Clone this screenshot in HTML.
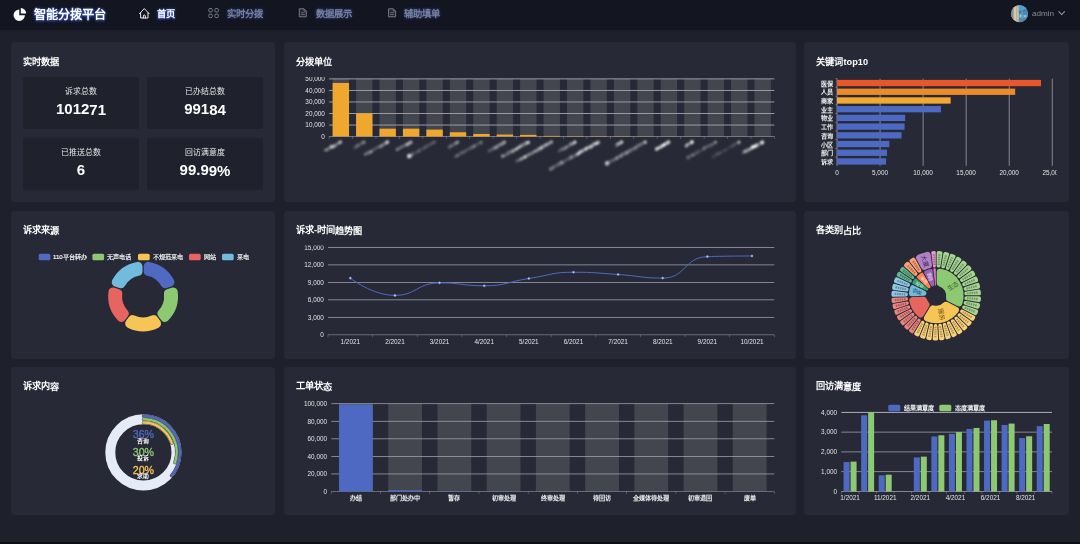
<!DOCTYPE html>
<html lang="zh-CN"><head><meta charset="utf-8"><title>智能分拨平台</title>
<style>
html,body{margin:0;padding:0}
body{width:1080px;height:544px;overflow:hidden;background:#1e202b;font-family:"Liberation Sans",sans-serif;color:#fff;position:relative}
.nav{position:absolute;left:0;top:0;width:1080px;height:29.7px;background:#131620}
.logo{position:absolute;left:34px;top:6.7px;font-size:12.2px;font-weight:bold;line-height:17px;color:#fff;text-shadow:0 0 3px rgba(63,95,224,.95),0 1px 3px rgba(63,95,224,.75);white-space:nowrap}
.ni{transform:translateY(1px) rotate(.02deg);position:absolute;top:7px;font-size:9.3px;font-weight:bold;line-height:13px;color:#7b8294;white-space:nowrap;text-shadow:0 0 3px rgba(50,80,200,.8)}
.ni.on{color:#fff;text-shadow:0 0 3px #3f5fe0,0 1px 2px #3f5fe0}
.user{position:absolute;left:1032px;top:8px;font-size:8.1px;line-height:11px;color:#8b8e98}
.ava{position:absolute;left:1011.3px;top:5.5px;width:16.4px;height:16.4px;border-radius:50%;overflow:hidden;background:linear-gradient(90deg,#b8a98c 0,#d9ccb0 38%,#3d86b8 46%,#4aa0d6 80%,#6d9fbf 100%);box-shadow:0 0 0 .6px #9aa0a8}
.p{position:absolute;background:#272a36;border-radius:3.5px}
.t{position:absolute;left:12.3px;top:13.6px;font-size:9.2px;font-weight:bold;line-height:12px;color:#fff;white-space:nowrap}
.c{position:absolute;background:#1f212c;border-radius:2.5px;width:116px;height:52.5px;text-align:center}
.c .l{transform:rotate(.02deg);position:absolute;left:0;right:0;top:10.5px;font-size:7.9px;line-height:10px;color:#e6e7ea}
.c .n{transform:translateY(.5px) rotate(.02deg);position:absolute;left:0;right:0;top:22px;font-size:15px;line-height:20px;font-weight:bold;color:#fff}
svg{position:absolute;left:0;top:0;overflow:hidden}
svg text{font-family:"Liberation Sans",sans-serif}
.bottom{position:absolute;left:0;top:542.4px;width:1080px;height:2px;background:#0c0d12}
#wrap{position:absolute;left:0;top:0;width:1080px;height:544px;will-change:transform;filter:blur(.4px)}
</style></head><body><div id="wrap">

<div class="nav">
<svg width="1080" height="30" viewBox="0 0 1080 30">
<path fill="#fff" d="M19.25 15.2L19.25 9.5A5.7 5.7 0 1 0 24.95 15.2Z"/>
<path fill="#fff" d="M20.8 13.5L20.8 8.1A5.4 5.4 0 0 1 26.2 13.5Z"/>
<g fill="none" stroke="#fff" stroke-width="0.9" stroke-linejoin="round" stroke-linecap="round"><path d="M139.5 13.7L144.3 8.6L149.1 13.7"/><path d="M140.6 12.9V18H148V12.9"/><path d="M143.3 18V16A1 1 0 0 1 145.3 16V18"/></g>
<rect x="208.8" y="8.5" width="3.5" height="3.5" rx="1.15" fill="none" stroke="#7b8091" stroke-width="0.95"/>
<rect x="214.9" y="8.5" width="3.5" height="3.5" rx="1.15" fill="none" stroke="#7b8091" stroke-width="0.95"/>
<rect x="208.8" y="14.1" width="3.5" height="3.5" rx="1.15" fill="none" stroke="#7b8091" stroke-width="0.95"/>
<rect x="214.9" y="14.1" width="3.5" height="3.5" rx="1.15" fill="none" stroke="#7b8091" stroke-width="0.95"/>
<path d="M299.3 8.8H304L306.3 11.1V16.8H299.3Z" fill="rgba(255,255,255,.07)" stroke="#7b8091" stroke-width="0.95" stroke-linejoin="round"/>
<path d="M304 8.8V11.1H306.3" fill="none" stroke="#7b8091" stroke-width="0.7"/>
<path d="M300.9 12.7H304.7M300.9 14.5H304.7" stroke="#7b8091" stroke-width="0.7"/>
<path d="M388.6 8.8H393.3L395.6 11.1V16.8H388.6Z" fill="rgba(255,255,255,.07)" stroke="#7b8091" stroke-width="0.95" stroke-linejoin="round"/>
<path d="M393.3 8.8V11.1H395.6" fill="none" stroke="#7b8091" stroke-width="0.7"/>
<path d="M390.2 12.7H394M390.2 14.5H394" stroke="#7b8091" stroke-width="0.7"/>
<defs><clipPath id="av"><circle cx="1019.5" cy="13.7" r="8.3"/></clipPath></defs>
<circle cx="1019.5" cy="13.7" r="8.6" fill="#8c939b"/>
<g clip-path="url(#av)"><rect x="1011" y="5" width="17" height="17" fill="#3f8cc2"/><rect x="1011" y="5" width="3.2" height="17" fill="#8f8c84"/><rect x="1013.6" y="5" width="5.2" height="17" fill="#d5c7a8"/><rect x="1016.3" y="5" width="1" height="17" fill="#b3a58a"/><path d="M1018.8 5L1028 5L1028 9.5L1018.8 12Z" fill="#4aa3d8"/><path d="M1018.8 11.2L1028 8.6L1028 10L1018.8 12.6Z" fill="#5a6d78"/><rect x="1021.8" y="10" width="0.9" height="12" fill="#7d99a8"/><rect x="1019.5" y="14.5" width="2" height="3" fill="#9fc4dc"/><rect x="1023.5" y="15" width="3" height="2.4" fill="#8fb9d6"/><rect x="1018.8" y="19" width="9.5" height="3" fill="#5b87a6"/></g>
<path d="M1058.9 11.6L1061.7 14.7L1064.5 11.6" fill="none" stroke="#8b8e98" stroke-width="1.1" stroke-linecap="round" stroke-linejoin="round"/>
</svg>
<div class="logo">智能分拨平台</div>
<div class="ni on" style="left:157.3px">首页</div>
<div class="ni" style="left:226.7px">实时分拨</div>
<div class="ni" style="left:315.7px">数据展示</div>
<div class="ni" style="left:404px">辅助填单</div>
<div class="user">admin</div>
</div>
<div class="p" style="left:10.9px;top:42px;width:264.1px;height:160.4px"><div class="t" style="top:13.5px">实时数据</div></div>
<div class="p" style="left:283.6px;top:42px;width:512px;height:160.4px"><div class="t" style="top:13.5px">分拨单位</div></div>
<div class="p" style="left:804.2px;top:42px;width:264.8px;height:160.4px"><div class="t" style="top:13.5px">关键词top10</div></div>
<div class="p" style="left:10.9px;top:211.1px;width:264.1px;height:147.7px"><div class="t" style="top:13.4px;transform:translateY(.5px) rotate(.02deg)">诉求来源</div></div>
<div class="p" style="left:283.6px;top:211.1px;width:512px;height:147.7px"><div class="t" style="top:13.4px;transform:translateY(.5px) rotate(.02deg)">诉求-时间趋势图</div></div>
<div class="p" style="left:804.2px;top:211.1px;width:264.8px;height:147.7px"><div class="t" style="top:13.4px;transform:translateY(.5px) rotate(.02deg)">各类别占比</div></div>
<div class="p" style="left:10.9px;top:367.1px;width:264.1px;height:148.3px"><div class="t" style="top:12.9px;transform:translateY(.5px) rotate(.02deg)">诉求内容</div></div>
<div class="p" style="left:283.6px;top:367.1px;width:512px;height:148.3px"><div class="t" style="top:12.9px;transform:translateY(.5px) rotate(.02deg)">工单状态</div></div>
<div class="p" style="left:804.2px;top:367.1px;width:264.8px;height:148.3px"><div class="t" style="top:12.9px;transform:translateY(.5px) rotate(.02deg)">回访满意度</div></div>
<div class="c" style="left:23px;top:76.65px"><div class="l">诉求总数</div><div class="n">101271</div></div>
<div class="c" style="left:147px;top:76.65px"><div class="l">已办结总数</div><div class="n">99184</div></div>
<div class="c" style="left:23px;top:137.65px"><div class="l">已推送总数</div><div class="n">6</div></div>
<div class="c" style="left:147px;top:137.65px"><div class="l">回访满意度</div><div class="n">99.99%</div></div>
<svg width="1080" height="544" viewBox="0 0 1080 544">
<defs><filter id="b1" x="-20%" y="-50%" width="140%" height="200%"><feGaussianBlur stdDeviation="0.9"/></filter>
<clipPath id="c1"><rect x="284" y="77.1" width="500" height="120"/></clipPath>
<clipPath id="c2"><rect x="284" y="245.6" width="500" height="110"/></clipPath>
<clipPath id="c3"><rect x="805" y="70" width="251.6" height="130"/></clipPath>
</defs>
<g clip-path="url(#c1)">
<rect x="332.62" y="78.8" width="16.4" height="57.7" fill="rgba(180,180,180,0.2)"/>
<rect x="356.06" y="78.8" width="16.4" height="57.7" fill="rgba(180,180,180,0.2)"/>
<rect x="379.49" y="78.8" width="16.4" height="57.7" fill="rgba(180,180,180,0.2)"/>
<rect x="402.93" y="78.8" width="16.4" height="57.7" fill="rgba(180,180,180,0.2)"/>
<rect x="426.37" y="78.8" width="16.4" height="57.7" fill="rgba(180,180,180,0.2)"/>
<rect x="449.8" y="78.8" width="16.4" height="57.7" fill="rgba(180,180,180,0.2)"/>
<rect x="473.24" y="78.8" width="16.4" height="57.7" fill="rgba(180,180,180,0.2)"/>
<rect x="496.68" y="78.8" width="16.4" height="57.7" fill="rgba(180,180,180,0.2)"/>
<rect x="520.11" y="78.8" width="16.4" height="57.7" fill="rgba(180,180,180,0.2)"/>
<rect x="543.55" y="78.8" width="16.4" height="57.7" fill="rgba(180,180,180,0.2)"/>
<rect x="566.99" y="78.8" width="16.4" height="57.7" fill="rgba(180,180,180,0.2)"/>
<rect x="590.42" y="78.8" width="16.4" height="57.7" fill="rgba(180,180,180,0.2)"/>
<rect x="613.86" y="78.8" width="16.4" height="57.7" fill="rgba(180,180,180,0.2)"/>
<rect x="637.3" y="78.8" width="16.4" height="57.7" fill="rgba(180,180,180,0.2)"/>
<rect x="660.73" y="78.8" width="16.4" height="57.7" fill="rgba(180,180,180,0.2)"/>
<rect x="684.17" y="78.8" width="16.4" height="57.7" fill="rgba(180,180,180,0.2)"/>
<rect x="707.61" y="78.8" width="16.4" height="57.7" fill="rgba(180,180,180,0.2)"/>
<rect x="731.04" y="78.8" width="16.4" height="57.7" fill="rgba(180,180,180,0.2)"/>
<rect x="754.48" y="78.8" width="16.4" height="57.7" fill="rgba(180,180,180,0.2)"/>
<rect x="329.1" y="136.13" width="445.3" height="0.9" fill="#7d808a"/>
<text x="324.9" y="138.77" font-size="6.4" text-anchor="end" fill="#e2e3e7" font-weight="normal">0</text>
<rect x="329.1" y="124.59" width="445.3" height="0.9" fill="#a3a6af"/>
<text x="324.9" y="127.23" font-size="6.4" text-anchor="end" fill="#e2e3e7" font-weight="normal">10,000</text>
<rect x="329.1" y="113.05" width="445.3" height="0.9" fill="#a3a6af"/>
<text x="324.9" y="115.69" font-size="6.4" text-anchor="end" fill="#e2e3e7" font-weight="normal">20,000</text>
<rect x="329.1" y="101.51" width="445.3" height="0.9" fill="#a3a6af"/>
<text x="324.9" y="104.15" font-size="6.4" text-anchor="end" fill="#e2e3e7" font-weight="normal">30,000</text>
<rect x="329.1" y="89.97" width="445.3" height="0.9" fill="#a3a6af"/>
<text x="324.9" y="92.61" font-size="6.4" text-anchor="end" fill="#e2e3e7" font-weight="normal">40,000</text>
<rect x="329.1" y="78.43" width="445.3" height="0.9" fill="#a3a6af"/>
<text x="324.9" y="81.07" font-size="6.4" text-anchor="end" fill="#e2e3e7" font-weight="normal">50,000</text>
<rect x="332.62" y="82.95" width="16.4" height="53.55" fill="#efa72e"/>
<rect x="356.06" y="113.42" width="16.4" height="23.08" fill="#efa72e"/>
<rect x="379.49" y="128.65" width="16.4" height="7.85" fill="#efa72e"/>
<rect x="402.93" y="128.65" width="16.4" height="7.85" fill="#efa72e"/>
<rect x="426.37" y="129.58" width="16.4" height="6.92" fill="#efa72e"/>
<rect x="449.8" y="132.23" width="16.4" height="4.27" fill="#efa72e"/>
<rect x="473.24" y="133.96" width="16.4" height="2.54" fill="#efa72e"/>
<rect x="496.68" y="134.54" width="16.4" height="1.96" fill="#efa72e"/>
<rect x="520.11" y="134.88" width="16.4" height="1.62" fill="#efa72e"/>
<rect x="543.55" y="135.92" width="16.4" height="0.58" fill="#efa72e"/>
<rect x="566.99" y="136.1" width="16.4" height="0.4" fill="#efa72e"/>
<rect x="590.42" y="136.15" width="16.4" height="0.35" fill="#efa72e"/>
<rect x="613.86" y="136.21" width="16.4" height="0.29" fill="#efa72e"/>
<rect x="637.3" y="136.33" width="16.4" height="0.17" fill="#efa72e"/>
<rect x="660.73" y="136.36" width="16.4" height="0.14" fill="#efa72e"/>
<rect x="684.17" y="136.41" width="16.4" height="0.09" fill="#efa72e"/>
<rect x="707.61" y="136.43" width="16.4" height="0.07" fill="#efa72e"/>
<rect x="731.04" y="136.45" width="16.4" height="0.05" fill="#efa72e"/>
<rect x="754.48" y="136.47" width="16.4" height="0.03" fill="#efa72e"/>
<rect x="328.8" y="136.5" width="0.6" height="2.4" fill="#a3a6af" opacity=".6"/>
<rect x="352.24" y="136.5" width="0.6" height="2.4" fill="#a3a6af" opacity=".6"/>
<rect x="375.67" y="136.5" width="0.6" height="2.4" fill="#a3a6af" opacity=".6"/>
<rect x="399.11" y="136.5" width="0.6" height="2.4" fill="#a3a6af" opacity=".6"/>
<rect x="422.55" y="136.5" width="0.6" height="2.4" fill="#a3a6af" opacity=".6"/>
<rect x="445.98" y="136.5" width="0.6" height="2.4" fill="#a3a6af" opacity=".6"/>
<rect x="469.42" y="136.5" width="0.6" height="2.4" fill="#a3a6af" opacity=".6"/>
<rect x="492.86" y="136.5" width="0.6" height="2.4" fill="#a3a6af" opacity=".6"/>
<rect x="516.29" y="136.5" width="0.6" height="2.4" fill="#a3a6af" opacity=".6"/>
<rect x="539.73" y="136.5" width="0.6" height="2.4" fill="#a3a6af" opacity=".6"/>
<rect x="563.17" y="136.5" width="0.6" height="2.4" fill="#a3a6af" opacity=".6"/>
<rect x="586.61" y="136.5" width="0.6" height="2.4" fill="#a3a6af" opacity=".6"/>
<rect x="610.04" y="136.5" width="0.6" height="2.4" fill="#a3a6af" opacity=".6"/>
<rect x="633.48" y="136.5" width="0.6" height="2.4" fill="#a3a6af" opacity=".6"/>
<rect x="656.92" y="136.5" width="0.6" height="2.4" fill="#a3a6af" opacity=".6"/>
<rect x="680.35" y="136.5" width="0.6" height="2.4" fill="#a3a6af" opacity=".6"/>
<rect x="703.79" y="136.5" width="0.6" height="2.4" fill="#a3a6af" opacity=".6"/>
<rect x="727.23" y="136.5" width="0.6" height="2.4" fill="#a3a6af" opacity=".6"/>
<rect x="750.66" y="136.5" width="0.6" height="2.4" fill="#a3a6af" opacity=".6"/>
<rect x="774.1" y="136.5" width="0.6" height="2.4" fill="#a3a6af" opacity=".6"/>
</g>
<g filter="url(#b1)" fill="#fff">
<g transform="translate(341.82 141.5) rotate(-29)">
<ellipse cx="-1.5" cy="-0.28" rx="1.8" ry="1.89" opacity="0.34"/>
<ellipse cx="-3.36" cy="-0.11" rx="1.8" ry="1.53" opacity="0.45"/>
<ellipse cx="-5.56" cy="-0.05" rx="1.8" ry="1.54" opacity="0.19"/>
<ellipse cx="-7.44" cy="0.26" rx="1.8" ry="1.57" opacity="0.39"/>
<ellipse cx="-9.42" cy="0.36" rx="1.8" ry="1.85" opacity="0.5"/>
<ellipse cx="-11.53" cy="-0.36" rx="1.8" ry="2.02" opacity="0.68"/>
<ellipse cx="-13.56" cy="-0.31" rx="1.8" ry="1.69" opacity="0.25"/>
<ellipse cx="-16.02" cy="0.07" rx="1.8" ry="1.88" opacity="0.27"/>
<ellipse cx="-18.11" cy="-0.35" rx="1.8" ry="1.54" opacity="0.46"/>
<circle cx="-1.6" cy="0" r="1.6" opacity="0.4"/>
</g>
<g transform="translate(365.26 141.5) rotate(-29)">
<ellipse cx="-1.5" cy="-0.06" rx="1.8" ry="1.69" opacity="0.26"/>
<ellipse cx="-3.77" cy="-0.16" rx="1.8" ry="1.98" opacity="0.2"/>
<ellipse cx="-6.13" cy="0.06" rx="1.8" ry="1.82" opacity="0.15"/>
<ellipse cx="-8.63" cy="-0.17" rx="1.8" ry="2.09" opacity="0.27"/>
<ellipse cx="-10.52" cy="0.21" rx="1.8" ry="1.59" opacity="0.19"/>
<ellipse cx="-12.71" cy="0.13" rx="1.8" ry="1.96" opacity="0.1"/>
<circle cx="-1.6" cy="0" r="1.6" opacity="0.24"/>
</g>
<g transform="translate(388.69 141.5) rotate(-29)">
<ellipse cx="-1.5" cy="-0.15" rx="1.8" ry="1.92" opacity="0.47"/>
<ellipse cx="-3.78" cy="-0.04" rx="1.8" ry="2" opacity="0.35"/>
<ellipse cx="-6.33" cy="0.13" rx="1.8" ry="1.54" opacity="0.31"/>
<ellipse cx="-8.69" cy="0.39" rx="1.8" ry="1.99" opacity="0.38"/>
<ellipse cx="-10.72" cy="0.13" rx="1.8" ry="1.51" opacity="0.28"/>
<ellipse cx="-12.89" cy="-0.31" rx="1.8" ry="1.54" opacity="0.19"/>
<ellipse cx="-15.3" cy="-0.2" rx="1.8" ry="1.73" opacity="0.18"/>
<ellipse cx="-17.8" cy="-0.04" rx="1.8" ry="1.83" opacity="0.16"/>
<ellipse cx="-20.31" cy="0.29" rx="1.8" ry="1.67" opacity="0.45"/>
<ellipse cx="-22.44" cy="0.31" rx="1.8" ry="2.07" opacity="0.27"/>
<ellipse cx="-24.36" cy="-0.21" rx="1.8" ry="1.64" opacity="0.2"/>
<ellipse cx="-26.55" cy="-0.19" rx="1.8" ry="1.5" opacity="0.36"/>
<circle cx="-1.6" cy="0" r="1.6" opacity="0.64"/>
</g>
<g transform="translate(412.13 141.5) rotate(-29)">
<ellipse cx="-1.5" cy="0.05" rx="1.8" ry="2.07" opacity="0.3"/>
<ellipse cx="-3.85" cy="0.09" rx="1.8" ry="1.91" opacity="0.37"/>
<ellipse cx="-5.7" cy="0.22" rx="1.8" ry="2.02" opacity="0.53"/>
<ellipse cx="-8.13" cy="-0.08" rx="1.8" ry="1.56" opacity="0.31"/>
<ellipse cx="-10.44" cy="-0.35" rx="1.8" ry="1.63" opacity="0.17"/>
<ellipse cx="-12.37" cy="-0.36" rx="1.8" ry="1.5" opacity="0.29"/>
<ellipse cx="-14.29" cy="-0.11" rx="1.8" ry="1.52" opacity="0.19"/>
<ellipse cx="-16.79" cy="-0.28" rx="1.8" ry="1.65" opacity="0.41"/>
<circle cx="-1.6" cy="0" r="1.6" opacity="0.4"/>
</g>
<g transform="translate(435.57 141.5) rotate(-29)">
<ellipse cx="-1.5" cy="-0.3" rx="1.8" ry="2.01" opacity="0.13"/>
<ellipse cx="-4.09" cy="-0.01" rx="1.8" ry="1.55" opacity="0.15"/>
<ellipse cx="-5.98" cy="-0.19" rx="1.8" ry="2" opacity="0.13"/>
<ellipse cx="-7.91" cy="0.36" rx="1.8" ry="1.82" opacity="0.07"/>
<ellipse cx="-9.82" cy="-0.38" rx="1.8" ry="1.82" opacity="0.17"/>
<ellipse cx="-12.41" cy="0.16" rx="1.8" ry="1.66" opacity="0.23"/>
<ellipse cx="-14.5" cy="0.22" rx="1.8" ry="1.82" opacity="0.09"/>
<ellipse cx="-16.92" cy="-0.22" rx="1.8" ry="1.99" opacity="0.13"/>
<ellipse cx="-19.51" cy="0.24" rx="1.8" ry="1.99" opacity="0.23"/>
<ellipse cx="-21.9" cy="0.01" rx="1.8" ry="1.71" opacity="0.11"/>
<ellipse cx="-23.73" cy="-0.18" rx="1.8" ry="1.66" opacity="0.07"/>
<ellipse cx="-26.08" cy="-0.04" rx="1.8" ry="2.06" opacity="0.24"/>
<ellipse cx="-28.67" cy="-0.11" rx="1.8" ry="1.63" opacity="0.24"/>
<circle cx="-1.6" cy="0" r="1.6" opacity="0.16"/>
<circle cx="-30" cy="0" r="2.3" opacity="0.8"/>
</g>
<g transform="translate(459 141.5) rotate(-29)">
<ellipse cx="-1.5" cy="-0.24" rx="1.8" ry="1.87" opacity="0.16"/>
<ellipse cx="-4.02" cy="-0.02" rx="1.8" ry="1.89" opacity="0.35"/>
<ellipse cx="-6.46" cy="0.13" rx="1.8" ry="2.05" opacity="0.13"/>
<ellipse cx="-8.89" cy="-0.02" rx="1.8" ry="1.61" opacity="0.33"/>
<ellipse cx="-11.32" cy="0.24" rx="1.8" ry="2.08" opacity="0.2"/>
<circle cx="-1.6" cy="0" r="1.6" opacity="0.4"/>
</g>
<g transform="translate(482.44 141.5) rotate(-29)">
<ellipse cx="-1.5" cy="0.36" rx="1.8" ry="1.93" opacity="0.19"/>
<ellipse cx="-3.44" cy="-0.28" rx="1.8" ry="2.04" opacity="0.12"/>
<ellipse cx="-5.88" cy="0.26" rx="1.8" ry="2.09" opacity="0.12"/>
<ellipse cx="-8.21" cy="0.04" rx="1.8" ry="1.58" opacity="0.18"/>
<ellipse cx="-10.02" cy="0.12" rx="1.8" ry="1.82" opacity="0.34"/>
<ellipse cx="-12.57" cy="0.3" rx="1.8" ry="2" opacity="0.2"/>
<ellipse cx="-14.53" cy="-0.17" rx="1.8" ry="1.64" opacity="0.15"/>
<ellipse cx="-16.8" cy="-0.06" rx="1.8" ry="1.58" opacity="0.15"/>
<ellipse cx="-19.33" cy="-0.03" rx="1.8" ry="1.85" opacity="0.18"/>
<ellipse cx="-21.85" cy="0.33" rx="1.8" ry="1.8" opacity="0.2"/>
<ellipse cx="-24.08" cy="-0.39" rx="1.8" ry="1.76" opacity="0.22"/>
<ellipse cx="-26.03" cy="0.24" rx="1.8" ry="1.6" opacity="0.09"/>
<ellipse cx="-28.21" cy="0.05" rx="1.8" ry="1.7" opacity="0.27"/>
<ellipse cx="-30.42" cy="0.23" rx="1.8" ry="1.56" opacity="0.23"/>
<circle cx="-1.6" cy="0" r="1.6" opacity="0.16"/>
</g>
<g transform="translate(505.88 141.5) rotate(-29)">
<ellipse cx="-1.5" cy="-0.18" rx="1.8" ry="1.96" opacity="0.23"/>
<ellipse cx="-3.71" cy="0.21" rx="1.8" ry="2.05" opacity="0.35"/>
<ellipse cx="-5.86" cy="0" rx="1.8" ry="1.81" opacity="0.37"/>
<ellipse cx="-8.21" cy="0.03" rx="1.8" ry="1.79" opacity="0.3"/>
<ellipse cx="-10.77" cy="0.3" rx="1.8" ry="2.07" opacity="0.4"/>
<ellipse cx="-12.78" cy="0.35" rx="1.8" ry="2" opacity="0.35"/>
<ellipse cx="-14.69" cy="-0.05" rx="1.8" ry="1.54" opacity="0.18"/>
<ellipse cx="-16.68" cy="0.14" rx="1.8" ry="1.97" opacity="0.16"/>
<ellipse cx="-19.2" cy="0.17" rx="1.8" ry="1.9" opacity="0.19"/>
<circle cx="-1.6" cy="0" r="1.6" opacity="0.4"/>
</g>
<g transform="translate(529.31 141.5) rotate(-29)">
<ellipse cx="-1.5" cy="0.37" rx="1.8" ry="1.63" opacity="0.73"/>
<ellipse cx="-4.06" cy="-0.01" rx="1.8" ry="2.09" opacity="0.44"/>
<ellipse cx="-6.53" cy="-0.05" rx="1.8" ry="1.81" opacity="0.3"/>
<ellipse cx="-8.6" cy="-0.15" rx="1.8" ry="1.93" opacity="0.32"/>
<ellipse cx="-10.41" cy="-0.05" rx="1.8" ry="1.51" opacity="0.54"/>
<ellipse cx="-12.48" cy="0.01" rx="1.8" ry="1.54" opacity="0.58"/>
<ellipse cx="-15.07" cy="0.38" rx="1.8" ry="1.56" opacity="0.68"/>
<ellipse cx="-17.08" cy="0.22" rx="1.8" ry="1.66" opacity="0.23"/>
<ellipse cx="-18.98" cy="0.33" rx="1.8" ry="1.99" opacity="0.46"/>
<ellipse cx="-20.99" cy="0.34" rx="1.8" ry="1.84" opacity="0.29"/>
<ellipse cx="-23.35" cy="-0.35" rx="1.8" ry="1.91" opacity="0.26"/>
<ellipse cx="-25.49" cy="0.35" rx="1.8" ry="1.88" opacity="0.24"/>
<ellipse cx="-27.93" cy="0.28" rx="1.8" ry="1.54" opacity="0.25"/>
<ellipse cx="-30.42" cy="-0.13" rx="1.8" ry="1.83" opacity="0.48"/>
<circle cx="-1.6" cy="0" r="1.6" opacity="0.4"/>
</g>
<g transform="translate(552.75 141.5) rotate(-29)">
<ellipse cx="-1.5" cy="-0.3" rx="1.8" ry="1.82" opacity="0.36"/>
<ellipse cx="-3.49" cy="-0.27" rx="1.8" ry="1.53" opacity="0.27"/>
<ellipse cx="-5.45" cy="-0.16" rx="1.8" ry="1.96" opacity="0.39"/>
<ellipse cx="-7.48" cy="-0.26" rx="1.8" ry="1.71" opacity="0.5"/>
<ellipse cx="-9.3" cy="-0.39" rx="1.8" ry="1.94" opacity="0.35"/>
<ellipse cx="-11.54" cy="-0.02" rx="1.8" ry="2.06" opacity="0.32"/>
<ellipse cx="-13.42" cy="-0.05" rx="1.8" ry="1.8" opacity="0.7"/>
<ellipse cx="-15.89" cy="0.01" rx="1.8" ry="1.91" opacity="0.44"/>
<ellipse cx="-18.48" cy="0.27" rx="1.8" ry="1.92" opacity="0.41"/>
<ellipse cx="-20.79" cy="-0.12" rx="1.8" ry="1.53" opacity="0.45"/>
<ellipse cx="-22.69" cy="0.19" rx="1.8" ry="1.65" opacity="0.24"/>
<ellipse cx="-24.62" cy="0.27" rx="1.8" ry="2.02" opacity="0.25"/>
<ellipse cx="-26.96" cy="-0.21" rx="1.8" ry="1.68" opacity="0.37"/>
<ellipse cx="-29.13" cy="-0.04" rx="1.8" ry="1.66" opacity="0.3"/>
<ellipse cx="-31.69" cy="0.04" rx="1.8" ry="1.65" opacity="0.79"/>
<ellipse cx="-34.27" cy="-0.11" rx="1.8" ry="1.5" opacity="0.39"/>
<ellipse cx="-36.37" cy="0" rx="1.8" ry="1.62" opacity="0.49"/>
<ellipse cx="-38.58" cy="-0.19" rx="1.8" ry="1.55" opacity="0.2"/>
<ellipse cx="-40.7" cy="-0.38" rx="1.8" ry="1.68" opacity="0.23"/>
<circle cx="-1.6" cy="0" r="1.6" opacity="0.32"/>
</g>
<g transform="translate(576.19 141.5) rotate(-29)">
<ellipse cx="-1.5" cy="0.02" rx="1.8" ry="1.95" opacity="0.32"/>
<ellipse cx="-3.83" cy="0.3" rx="1.8" ry="1.73" opacity="0.36"/>
<ellipse cx="-5.89" cy="-0.28" rx="1.8" ry="1.93" opacity="0.45"/>
<ellipse cx="-8.2" cy="0.27" rx="1.8" ry="2.04" opacity="0.13"/>
<ellipse cx="-10.5" cy="0.25" rx="1.8" ry="1.58" opacity="0.37"/>
<ellipse cx="-12.72" cy="0.27" rx="1.8" ry="1.98" opacity="0.29"/>
<ellipse cx="-15.18" cy="0.31" rx="1.8" ry="1.91" opacity="0.32"/>
<ellipse cx="-17.54" cy="-0.38" rx="1.8" ry="1.58" opacity="0.19"/>
<ellipse cx="-19.63" cy="0.27" rx="1.8" ry="1.84" opacity="0.15"/>
<circle cx="-1.6" cy="0" r="1.6" opacity="0.72"/>
</g>
<g transform="translate(599.62 141.5) rotate(-29)">
<ellipse cx="-1.5" cy="0.14" rx="1.8" ry="1.79" opacity="0.33"/>
<ellipse cx="-3.3" cy="0.2" rx="1.8" ry="1.8" opacity="0.7"/>
<ellipse cx="-5.53" cy="-0.35" rx="1.8" ry="1.94" opacity="0.62"/>
<ellipse cx="-7.53" cy="-0.19" rx="1.8" ry="1.94" opacity="0.25"/>
<ellipse cx="-9.5" cy="0.38" rx="1.8" ry="1.8" opacity="0.67"/>
<ellipse cx="-11.6" cy="0.15" rx="1.8" ry="1.96" opacity="0.5"/>
<ellipse cx="-13.9" cy="-0.34" rx="1.8" ry="1.59" opacity="0.61"/>
<ellipse cx="-15.9" cy="-0.16" rx="1.8" ry="1.84" opacity="0.67"/>
<ellipse cx="-17.71" cy="-0.18" rx="1.8" ry="1.9" opacity="0.24"/>
<ellipse cx="-20.06" cy="-0.17" rx="1.8" ry="1.81" opacity="0.63"/>
<ellipse cx="-22.23" cy="-0.31" rx="1.8" ry="2.04" opacity="0.5"/>
<ellipse cx="-24.19" cy="0.35" rx="1.8" ry="1.51" opacity="0.81"/>
<ellipse cx="-26.36" cy="0.37" rx="1.8" ry="1.77" opacity="0.4"/>
<ellipse cx="-28.38" cy="0.36" rx="1.8" ry="1.63" opacity="0.19"/>
<ellipse cx="-30.64" cy="0.02" rx="1.8" ry="2.07" opacity="0.16"/>
<ellipse cx="-32.55" cy="0.01" rx="1.8" ry="2.03" opacity="0.4"/>
<ellipse cx="-34.91" cy="0.32" rx="1.8" ry="1.79" opacity="0.19"/>
<ellipse cx="-36.73" cy="-0.01" rx="1.8" ry="1.77" opacity="0.12"/>
<ellipse cx="-38.77" cy="-0.12" rx="1.8" ry="1.69" opacity="0.16"/>
<ellipse cx="-41.24" cy="0.2" rx="1.8" ry="2" opacity="0.12"/>
<ellipse cx="-43.14" cy="0.17" rx="1.8" ry="2.04" opacity="0.43"/>
<ellipse cx="-45.17" cy="-0.09" rx="1.8" ry="2.1" opacity="0.24"/>
<ellipse cx="-47.44" cy="-0.06" rx="1.8" ry="1.67" opacity="0.24"/>
<ellipse cx="-49.28" cy="0.27" rx="1.8" ry="1.67" opacity="0.15"/>
<ellipse cx="-51.83" cy="-0.19" rx="1.8" ry="1.81" opacity="0.2"/>
<ellipse cx="-53.78" cy="0.36" rx="1.8" ry="2.03" opacity="0.24"/>
<ellipse cx="-56.23" cy="0.33" rx="1.8" ry="2.06" opacity="0.33"/>
<circle cx="-1.6" cy="0" r="1.6" opacity="0.4"/>
</g>
<g transform="translate(623.06 141.5) rotate(-29)">
<ellipse cx="-1.5" cy="-0.36" rx="1.8" ry="1.94" opacity="0.41"/>
<ellipse cx="-3.66" cy="0.12" rx="1.8" ry="1.67" opacity="0.42"/>
<ellipse cx="-5.5" cy="-0.3" rx="1.8" ry="1.78" opacity="0.49"/>
<ellipse cx="-7.57" cy="0.19" rx="1.8" ry="2.09" opacity="0.24"/>
<circle cx="-1.6" cy="0" r="1.6" opacity="0.56"/>
</g>
<g transform="translate(646.5 141.5) rotate(-29)">
<ellipse cx="-1.5" cy="-0.16" rx="1.8" ry="1.83" opacity="0.34"/>
<ellipse cx="-3.62" cy="-0.27" rx="1.8" ry="1.62" opacity="0.17"/>
<ellipse cx="-6.14" cy="-0.22" rx="1.8" ry="2.04" opacity="0.29"/>
<ellipse cx="-8.74" cy="-0.29" rx="1.8" ry="1.62" opacity="0.27"/>
<ellipse cx="-10.61" cy="-0.33" rx="1.8" ry="1.64" opacity="0.23"/>
<ellipse cx="-12.62" cy="0.31" rx="1.8" ry="1.95" opacity="0.31"/>
<ellipse cx="-14.75" cy="0.02" rx="1.8" ry="1.73" opacity="0.26"/>
<ellipse cx="-16.82" cy="-0.18" rx="1.8" ry="2.08" opacity="0.14"/>
<ellipse cx="-18.72" cy="0.1" rx="1.8" ry="2.02" opacity="0.29"/>
<ellipse cx="-20.69" cy="-0.2" rx="1.8" ry="1.74" opacity="0.21"/>
<ellipse cx="-22.85" cy="0.28" rx="1.8" ry="2.02" opacity="0.44"/>
<ellipse cx="-24.67" cy="0.17" rx="1.8" ry="2.04" opacity="0.13"/>
<ellipse cx="-26.84" cy="-0.4" rx="1.8" ry="1.73" opacity="0.32"/>
<ellipse cx="-29.39" cy="0.28" rx="1.8" ry="2.08" opacity="0.4"/>
<ellipse cx="-31.38" cy="-0.28" rx="1.8" ry="1.81" opacity="0.15"/>
<ellipse cx="-33.73" cy="0.18" rx="1.8" ry="1.89" opacity="0.44"/>
<ellipse cx="-36.14" cy="0.04" rx="1.8" ry="1.52" opacity="0.27"/>
<ellipse cx="-38.57" cy="0.34" rx="1.8" ry="1.89" opacity="0.2"/>
<ellipse cx="-40.61" cy="-0.2" rx="1.8" ry="1.88" opacity="0.16"/>
<ellipse cx="-42.97" cy="-0.34" rx="1.8" ry="1.81" opacity="0.15"/>
<circle cx="-1.6" cy="0" r="1.6" opacity="0.56"/>
<circle cx="-45" cy="0" r="2.3" opacity="0.7"/>
</g>
<g transform="translate(669.93 141.5) rotate(-29)">
<ellipse cx="-1.5" cy="-0.22" rx="1.8" ry="1.86" opacity="0.5"/>
<ellipse cx="-3.31" cy="-0.03" rx="1.8" ry="2.08" opacity="0.44"/>
<ellipse cx="-5.62" cy="-0.02" rx="1.8" ry="1.64" opacity="0.84"/>
<ellipse cx="-7.62" cy="0.16" rx="1.8" ry="1.68" opacity="0.89"/>
<ellipse cx="-9.44" cy="0.14" rx="1.8" ry="1.75" opacity="0.57"/>
<ellipse cx="-11.44" cy="0.34" rx="1.8" ry="1.64" opacity="0.69"/>
<ellipse cx="-13.27" cy="-0.06" rx="1.8" ry="1.91" opacity="0.46"/>
<ellipse cx="-15.23" cy="0.19" rx="1.8" ry="1.8" opacity="0.78"/>
<circle cx="-1.6" cy="0" r="1.6" opacity="0.64"/>
</g>
<g transform="translate(693.37 141.5) rotate(-29)">
<ellipse cx="-1.5" cy="-0.15" rx="1.8" ry="1.99" opacity="0.79"/>
<ellipse cx="-3.48" cy="0.21" rx="1.8" ry="1.68" opacity="0.33"/>
<ellipse cx="-6.05" cy="-0.25" rx="1.8" ry="1.63" opacity="0.5"/>
<ellipse cx="-8.18" cy="0.36" rx="1.8" ry="1.59" opacity="0.6"/>
<circle cx="-1.6" cy="0" r="1.6" opacity="0.56"/>
</g>
<g transform="translate(716.81 141.5) rotate(-29)">
<ellipse cx="-1.5" cy="0.38" rx="1.8" ry="1.59" opacity="0.12"/>
<ellipse cx="-3.34" cy="-0.09" rx="1.8" ry="2.04" opacity="0.08"/>
<ellipse cx="-5.85" cy="0.4" rx="1.8" ry="2.06" opacity="0.23"/>
<ellipse cx="-7.91" cy="0.35" rx="1.8" ry="1.95" opacity="0.11"/>
<ellipse cx="-9.74" cy="-0.1" rx="1.8" ry="1.72" opacity="0.22"/>
<ellipse cx="-11.8" cy="-0.4" rx="1.8" ry="1.67" opacity="0.11"/>
<ellipse cx="-13.88" cy="-0.3" rx="1.8" ry="2.08" opacity="0.28"/>
<ellipse cx="-15.85" cy="0.26" rx="1.8" ry="1.99" opacity="0.15"/>
<ellipse cx="-18" cy="-0.02" rx="1.8" ry="1.72" opacity="0.08"/>
<ellipse cx="-20.53" cy="-0.11" rx="1.8" ry="2.04" opacity="0.11"/>
<ellipse cx="-22.36" cy="0.25" rx="1.8" ry="1.96" opacity="0.16"/>
<ellipse cx="-24.19" cy="-0.35" rx="1.8" ry="2.05" opacity="0.08"/>
<ellipse cx="-26.19" cy="0.32" rx="1.8" ry="1.7" opacity="0.23"/>
<ellipse cx="-28.21" cy="0.09" rx="1.8" ry="1.66" opacity="0.28"/>
<ellipse cx="-30.58" cy="-0.18" rx="1.8" ry="1.5" opacity="0.14"/>
<ellipse cx="-32.99" cy="0.11" rx="1.8" ry="2.07" opacity="0.27"/>
<circle cx="-1.6" cy="0" r="1.6" opacity="0.4"/>
</g>
<g transform="translate(740.24 141.5) rotate(-29)">
<ellipse cx="-1.5" cy="-0.02" rx="1.8" ry="2.07" opacity="0.07"/>
<ellipse cx="-4.06" cy="-0.2" rx="1.8" ry="1.76" opacity="0.09"/>
<ellipse cx="-6.26" cy="-0.25" rx="1.8" ry="1.98" opacity="0.15"/>
<ellipse cx="-8.65" cy="0.22" rx="1.8" ry="1.86" opacity="0.14"/>
<ellipse cx="-10.71" cy="-0.11" rx="1.8" ry="1.97" opacity="0.08"/>
<ellipse cx="-12.57" cy="0.2" rx="1.8" ry="1.65" opacity="0.06"/>
<ellipse cx="-14.43" cy="0.04" rx="1.8" ry="1.7" opacity="0.04"/>
<ellipse cx="-17.01" cy="0.39" rx="1.8" ry="1.66" opacity="0.15"/>
<ellipse cx="-18.88" cy="-0" rx="1.8" ry="1.93" opacity="0.05"/>
<ellipse cx="-21.03" cy="-0.07" rx="1.8" ry="1.87" opacity="0.07"/>
<ellipse cx="-23.37" cy="0.28" rx="1.8" ry="1.9" opacity="0.13"/>
<ellipse cx="-25.27" cy="-0.16" rx="1.8" ry="1.84" opacity="0.14"/>
<ellipse cx="-27.37" cy="-0.24" rx="1.8" ry="1.65" opacity="0.13"/>
<ellipse cx="-29.37" cy="0.31" rx="1.8" ry="1.85" opacity="0.06"/>
<ellipse cx="-31.43" cy="0.39" rx="1.8" ry="1.8" opacity="0.09"/>
<circle cx="-1.6" cy="0" r="1.6" opacity="0.64"/>
</g>
<g transform="translate(763.68 141.5) rotate(-29)">
<ellipse cx="-1.5" cy="0.12" rx="1.8" ry="2.09" opacity="0.59"/>
<ellipse cx="-3.38" cy="0.26" rx="1.8" ry="2" opacity="0.42"/>
<ellipse cx="-5.91" cy="-0.17" rx="1.8" ry="1.57" opacity="0.19"/>
<ellipse cx="-7.87" cy="0.07" rx="1.8" ry="2.06" opacity="0.68"/>
<ellipse cx="-9.96" cy="-0.04" rx="1.8" ry="1.66" opacity="0.93"/>
<ellipse cx="-12.39" cy="-0.32" rx="1.8" ry="1.86" opacity="0.99"/>
<ellipse cx="-14.68" cy="-0.11" rx="1.8" ry="1.58" opacity="0.43"/>
<ellipse cx="-16.64" cy="0.08" rx="1.8" ry="1.89" opacity="0.46"/>
<ellipse cx="-18.61" cy="-0.14" rx="1.8" ry="1.91" opacity="0.27"/>
<ellipse cx="-20.56" cy="-0.24" rx="1.8" ry="1.98" opacity="0.5"/>
<ellipse cx="-22.79" cy="-0.32" rx="1.8" ry="1.74" opacity="0.31"/>
<circle cx="-1.6" cy="0" r="1.6" opacity="0.72"/>
</g>
</g>
<g clip-path="url(#c3)">
<rect x="836.63" y="78.7" width="0.75" height="87.1" fill="#a3a6af"/>
<text x="837" y="174.97" font-size="6.4" text-anchor="middle" fill="#e2e3e7">0</text>
<rect x="879.67" y="78.7" width="0.75" height="87.1" fill="#a3a6af"/>
<text x="880.04" y="174.97" font-size="6.4" text-anchor="middle" fill="#e2e3e7">5,000</text>
<rect x="922.71" y="78.7" width="0.75" height="87.1" fill="#a3a6af"/>
<text x="923.08" y="174.97" font-size="6.4" text-anchor="middle" fill="#e2e3e7">10,000</text>
<rect x="965.75" y="78.7" width="0.75" height="87.1" fill="#a3a6af"/>
<text x="966.12" y="174.97" font-size="6.4" text-anchor="middle" fill="#e2e3e7">15,000</text>
<rect x="1008.79" y="78.7" width="0.75" height="87.1" fill="#a3a6af"/>
<text x="1009.16" y="174.97" font-size="6.4" text-anchor="middle" fill="#e2e3e7">20,000</text>
<rect x="1051.83" y="78.7" width="0.75" height="87.1" fill="#a3a6af"/>
<text x="1052.2" y="174.97" font-size="6.4" text-anchor="middle" fill="#e2e3e7">25,000</text>
<rect x="837" y="79.91" width="204.01" height="6.3" fill="#e8562a"/>
<text x="833.4" y="85.62" font-size="6.1" text-anchor="end" fill="#f0f1f3" font-weight="bold">医保</text>
<rect x="835" y="78.4" width="2" height="0.6" fill="#a3a6af" opacity=".6"/>
<rect x="837" y="88.61" width="178.19" height="6.3" fill="#ec8a2c"/>
<text x="833.4" y="94.33" font-size="6.1" text-anchor="end" fill="#f0f1f3" font-weight="bold">人员</text>
<rect x="835" y="87.11" width="2" height="0.6" fill="#a3a6af" opacity=".6"/>
<rect x="837" y="97.33" width="113.63" height="6.3" fill="#f2a932"/>
<text x="833.4" y="103.04" font-size="6.1" text-anchor="end" fill="#f0f1f3" font-weight="bold">商家</text>
<rect x="835" y="95.82" width="2" height="0.6" fill="#a3a6af" opacity=".6"/>
<rect x="837" y="106.04" width="103.98" height="6.3" fill="#4e69c2"/>
<text x="833.4" y="111.75" font-size="6.1" text-anchor="end" fill="#f0f1f3" font-weight="bold">业主</text>
<rect x="835" y="104.53" width="2" height="0.6" fill="#a3a6af" opacity=".6"/>
<rect x="837" y="114.75" width="68.18" height="6.3" fill="#4e69c2"/>
<text x="833.4" y="120.46" font-size="6.1" text-anchor="end" fill="#f0f1f3" font-weight="bold">物业</text>
<rect x="835" y="113.24" width="2" height="0.6" fill="#a3a6af" opacity=".6"/>
<rect x="837" y="123.45" width="67.57" height="6.3" fill="#4e69c2"/>
<text x="833.4" y="129.17" font-size="6.1" text-anchor="end" fill="#f0f1f3" font-weight="bold">工作</text>
<rect x="835" y="121.95" width="2" height="0.6" fill="#a3a6af" opacity=".6"/>
<rect x="837" y="132.17" width="64.56" height="6.3" fill="#4e69c2"/>
<text x="833.4" y="137.88" font-size="6.1" text-anchor="end" fill="#f0f1f3" font-weight="bold">咨询</text>
<rect x="835" y="130.66" width="2" height="0.6" fill="#a3a6af" opacity=".6"/>
<rect x="837" y="140.88" width="52.34" height="6.3" fill="#4e69c2"/>
<text x="833.4" y="146.59" font-size="6.1" text-anchor="end" fill="#f0f1f3" font-weight="bold">小区</text>
<rect x="835" y="139.37" width="2" height="0.6" fill="#a3a6af" opacity=".6"/>
<rect x="837" y="149.59" width="50.01" height="6.3" fill="#4e69c2"/>
<text x="833.4" y="155.3" font-size="6.1" text-anchor="end" fill="#f0f1f3" font-weight="bold">部门</text>
<rect x="835" y="148.08" width="2" height="0.6" fill="#a3a6af" opacity=".6"/>
<rect x="837" y="158.3" width="49.07" height="6.3" fill="#4e69c2"/>
<text x="833.4" y="164.01" font-size="6.1" text-anchor="end" fill="#f0f1f3" font-weight="bold">诉求</text>
<rect x="835" y="156.79" width="2" height="0.6" fill="#a3a6af" opacity=".6"/>
</g>
<path d="M148.3 266.45A30.3 30.3 0 0 1 169.88 282.13L165.33 283.61A25.6 25.6 0 0 0 148.3 271.23Z" fill="#4f6ac2" stroke="#4f6ac2" stroke-width="9.2" stroke-linejoin="round" opacity="1"/>
<path d="M173.1 292.02A30.3 30.3 0 0 1 164.85 317.39L162.04 313.52A25.6 25.6 0 0 0 168.55 293.5Z" fill="#8dc873" stroke="#8dc873" stroke-width="9.2" stroke-linejoin="round" opacity="1"/>
<path d="M156.44 323.51A30.3 30.3 0 0 1 129.76 323.51L132.57 319.64A25.6 25.6 0 0 0 153.63 319.64Z" fill="#f7c556" stroke="#f7c556" stroke-width="9.2" stroke-linejoin="round" opacity="1"/>
<path d="M121.35 317.39A30.3 30.3 0 0 1 113.1 292.02L117.65 293.5A25.6 25.6 0 0 0 124.16 313.52Z" fill="#e66561" stroke="#e66561" stroke-width="9.2" stroke-linejoin="round" opacity="1"/>
<path d="M116.32 282.13A30.3 30.3 0 0 1 137.9 266.45L137.9 271.23A25.6 25.6 0 0 0 120.87 283.61Z" fill="#71bbdc" stroke="#71bbdc" stroke-width="9.2" stroke-linejoin="round" opacity="1"/>
<rect x="38.7" y="253.7" width="11.7" height="6.6" rx="1.5" fill="#4f6ac2"/>
<text x="53" y="259.25" font-size="6.15" fill="#fff" stroke="#fff" stroke-width=".15">110平台转办</text>
<rect x="92.4" y="253.7" width="11.7" height="6.6" rx="1.5" fill="#8dc873"/>
<text x="107" y="259.25" font-size="6.15" fill="#fff" stroke="#fff" stroke-width=".15">无声电话</text>
<rect x="138" y="253.7" width="11.7" height="6.6" rx="1.5" fill="#f7c556"/>
<text x="152.6" y="259.25" font-size="6.15" fill="#fff" stroke="#fff" stroke-width=".15">不规范来电</text>
<rect x="189" y="253.7" width="11.7" height="6.6" rx="1.5" fill="#e66561"/>
<text x="203.6" y="259.25" font-size="6.15" fill="#fff" stroke="#fff" stroke-width=".15">网站</text>
<rect x="222" y="253.7" width="11.7" height="6.6" rx="1.5" fill="#71bbdc"/>
<text x="236.8" y="259.25" font-size="6.15" fill="#fff" stroke="#fff" stroke-width=".15">来电</text>
<g clip-path="url(#c2)">
<rect x="328" y="334.43" width="446.3" height="0.75" fill="#7d808a"/>
<text x="323.8" y="337.07" font-size="6.4" text-anchor="end" fill="#e2e3e7" font-weight="normal">0</text>
<rect x="328" y="316.95" width="446.3" height="0.75" fill="#a3a6af"/>
<text x="323.8" y="319.59" font-size="6.4" text-anchor="end" fill="#e2e3e7" font-weight="normal">3,000</text>
<rect x="328" y="299.47" width="446.3" height="0.75" fill="#a3a6af"/>
<text x="323.8" y="302.11" font-size="6.4" text-anchor="end" fill="#e2e3e7" font-weight="normal">6,000</text>
<rect x="328" y="281.99" width="446.3" height="0.75" fill="#a3a6af"/>
<text x="323.8" y="284.63" font-size="6.4" text-anchor="end" fill="#e2e3e7" font-weight="normal">9,000</text>
<rect x="328" y="264.51" width="446.3" height="0.75" fill="#a3a6af"/>
<text x="323.8" y="267.15" font-size="6.4" text-anchor="end" fill="#e2e3e7" font-weight="normal">12,000</text>
<rect x="328" y="247.03" width="446.3" height="0.75" fill="#a3a6af"/>
<text x="323.8" y="249.67" font-size="6.4" text-anchor="end" fill="#e2e3e7" font-weight="normal">15,000</text>
<rect x="327.7" y="334.8" width="0.6" height="2.4" fill="#a3a6af" opacity=".6"/>
<rect x="372.33" y="334.8" width="0.6" height="2.4" fill="#a3a6af" opacity=".6"/>
<rect x="416.96" y="334.8" width="0.6" height="2.4" fill="#a3a6af" opacity=".6"/>
<rect x="461.59" y="334.8" width="0.6" height="2.4" fill="#a3a6af" opacity=".6"/>
<rect x="506.22" y="334.8" width="0.6" height="2.4" fill="#a3a6af" opacity=".6"/>
<rect x="550.85" y="334.8" width="0.6" height="2.4" fill="#a3a6af" opacity=".6"/>
<rect x="595.48" y="334.8" width="0.6" height="2.4" fill="#a3a6af" opacity=".6"/>
<rect x="640.11" y="334.8" width="0.6" height="2.4" fill="#a3a6af" opacity=".6"/>
<rect x="684.74" y="334.8" width="0.6" height="2.4" fill="#a3a6af" opacity=".6"/>
<rect x="729.37" y="334.8" width="0.6" height="2.4" fill="#a3a6af" opacity=".6"/>
<rect x="774" y="334.8" width="0.6" height="2.4" fill="#a3a6af" opacity=".6"/>
<path d="M350.31 278.11C350.31 278.11 372.28 295.41 394.94 295.41C416.91 295.41 416.86 282.83 439.57 282.83C461.49 282.83 462.01 285.8 484.2 285.8C506.64 285.8 506.48 281.91 528.84 278.51C551.11 275.13 551.05 272.22 573.46 272.22C595.68 272.22 595.8 273.02 618.1 274.49C640.43 275.97 641.54 278.11 662.72 278.11C686.17 278.11 683.88 257.32 707.36 256.61C728.51 255.97 751.98 255.97 751.98 255.97" fill="none" stroke="#4f6ac2" stroke-width="1"/>
<circle cx="350.31" cy="278.11" r="1.05" fill="#cfd8ff" stroke="#6c86e0" stroke-width="0.6"/>
<circle cx="394.94" cy="295.41" r="1.05" fill="#cfd8ff" stroke="#6c86e0" stroke-width="0.6"/>
<circle cx="439.57" cy="282.83" r="1.05" fill="#cfd8ff" stroke="#6c86e0" stroke-width="0.6"/>
<circle cx="484.2" cy="285.8" r="1.05" fill="#cfd8ff" stroke="#6c86e0" stroke-width="0.6"/>
<circle cx="528.84" cy="278.51" r="1.05" fill="#cfd8ff" stroke="#6c86e0" stroke-width="0.6"/>
<circle cx="573.46" cy="272.22" r="1.05" fill="#cfd8ff" stroke="#6c86e0" stroke-width="0.6"/>
<circle cx="618.1" cy="274.49" r="1.05" fill="#cfd8ff" stroke="#6c86e0" stroke-width="0.6"/>
<circle cx="662.72" cy="278.11" r="1.05" fill="#cfd8ff" stroke="#6c86e0" stroke-width="0.6"/>
<circle cx="707.36" cy="256.61" r="1.05" fill="#cfd8ff" stroke="#6c86e0" stroke-width="0.6"/>
<circle cx="751.98" cy="255.97" r="1.05" fill="#cfd8ff" stroke="#6c86e0" stroke-width="0.6"/>
<text x="350.31" y="343.97" font-size="6.4" text-anchor="middle" fill="#e2e3e7">1/2021</text>
<text x="394.94" y="343.97" font-size="6.4" text-anchor="middle" fill="#e2e3e7">2/2021</text>
<text x="439.57" y="343.97" font-size="6.4" text-anchor="middle" fill="#e2e3e7">3/2021</text>
<text x="484.2" y="343.97" font-size="6.4" text-anchor="middle" fill="#e2e3e7">4/2021</text>
<text x="528.84" y="343.97" font-size="6.4" text-anchor="middle" fill="#e2e3e7">5/2021</text>
<text x="573.46" y="343.97" font-size="6.4" text-anchor="middle" fill="#e2e3e7">6/2021</text>
<text x="618.1" y="343.97" font-size="6.4" text-anchor="middle" fill="#e2e3e7">7/2021</text>
<text x="662.72" y="343.97" font-size="6.4" text-anchor="middle" fill="#e2e3e7">8/2021</text>
<text x="707.36" y="343.97" font-size="6.4" text-anchor="middle" fill="#e2e3e7">9/2021</text>
<text x="751.98" y="343.97" font-size="6.4" text-anchor="middle" fill="#e2e3e7">10/2021</text>
</g>
<path d="M940.1 272.12A24 24 0 0 1 959.07 303.08L949.39 298.15A13.4 13.4 0 0 0 940.1 282.98Z" fill="#8dc873" stroke="#8dc873" stroke-width="6.8" stroke-linejoin="round" opacity="1"/>
<path d="M938.47 252.88A42.98 42.98 0 0 1 940.67 253.05L938.66 265.78A30.12 30.12 0 0 0 938.47 265.77Z" fill="#a6d491" stroke="#a6d491" stroke-width="3.64" stroke-linejoin="round" opacity="1"/>
<path d="M938.62 265L939.51 253.73" stroke="#3f5933" stroke-opacity=".5" stroke-width="2.2" stroke-dasharray="1.5 0.8"/>
<path d="M945.16 253.76A42.98 42.98 0 0 1 947.3 254.28L943.32 266.53A30.12 30.12 0 0 0 943.14 266.49Z" fill="#a6d491" stroke="#a6d491" stroke-width="3.64" stroke-linejoin="round" opacity="1"/>
<path d="M943.41 265.75L946.05 254.77" stroke="#3f5933" stroke-opacity=".5" stroke-width="2.2" stroke-dasharray="1.5 0.8"/>
<path d="M951.62 255.68A42.98 42.98 0 0 1 953.66 256.53L947.81 268.01A30.12 30.12 0 0 0 947.64 267.94Z" fill="#a6d491" stroke="#a6d491" stroke-width="3.64" stroke-linejoin="round" opacity="1"/>
<path d="M948.02 267.25L952.35 256.81" stroke="#3f5933" stroke-opacity=".5" stroke-width="2.2" stroke-dasharray="1.5 0.8"/>
<path d="M957.71 258.59A42.98 42.98 0 0 1 959.59 259.74L952.02 270.17A30.12 30.12 0 0 0 951.86 270.07Z" fill="#a6d491" stroke="#a6d491" stroke-width="3.64" stroke-linejoin="round" opacity="1"/>
<path d="M952.35 269.45L958.25 259.82" stroke="#3f5933" stroke-opacity=".5" stroke-width="2.2" stroke-dasharray="1.5 0.8"/>
<path d="M963.26 262.41A42.98 42.98 0 0 1 964.94 263.85L955.83 272.96A30.12 30.12 0 0 0 955.69 272.84Z" fill="#a6d491" stroke="#a6d491" stroke-width="3.64" stroke-linejoin="round" opacity="1"/>
<path d="M956.27 272.3L963.61 263.71" stroke="#3f5933" stroke-opacity=".5" stroke-width="2.2" stroke-dasharray="1.5 0.8"/>
<path d="M968.15 267.06A42.98 42.98 0 0 1 969.59 268.74L959.16 276.31A30.12 30.12 0 0 0 959.04 276.17Z" fill="#a6d491" stroke="#a6d491" stroke-width="3.64" stroke-linejoin="round" opacity="1"/>
<path d="M959.7 275.73L968.29 268.39" stroke="#3f5933" stroke-opacity=".5" stroke-width="2.2" stroke-dasharray="1.5 0.8"/>
<path d="M972.26 272.41A42.98 42.98 0 0 1 973.41 274.29L961.93 280.14A30.12 30.12 0 0 0 961.83 279.98Z" fill="#a6d491" stroke="#a6d491" stroke-width="3.64" stroke-linejoin="round" opacity="1"/>
<path d="M962.55 279.65L972.18 273.75" stroke="#3f5933" stroke-opacity=".5" stroke-width="2.2" stroke-dasharray="1.5 0.8"/>
<path d="M975.47 278.34A42.98 42.98 0 0 1 976.32 280.38L964.06 284.36A30.12 30.12 0 0 0 963.99 284.19Z" fill="#a6d491" stroke="#a6d491" stroke-width="3.64" stroke-linejoin="round" opacity="1"/>
<path d="M964.75 283.98L975.19 279.65" stroke="#3f5933" stroke-opacity=".5" stroke-width="2.2" stroke-dasharray="1.5 0.8"/>
<path d="M977.72 284.7A42.98 42.98 0 0 1 978.24 286.84L965.51 288.86A30.12 30.12 0 0 0 965.47 288.68Z" fill="#a6d491" stroke="#a6d491" stroke-width="3.64" stroke-linejoin="round" opacity="1"/>
<path d="M966.25 288.59L977.23 285.95" stroke="#3f5933" stroke-opacity=".5" stroke-width="2.2" stroke-dasharray="1.5 0.8"/>
<path d="M978.95 291.33A42.98 42.98 0 0 1 979.12 293.53L966.23 293.53A30.12 30.12 0 0 0 966.22 293.34Z" fill="#a6d491" stroke="#a6d491" stroke-width="3.64" stroke-linejoin="round" opacity="1"/>
<path d="M967 293.38L978.27 292.49" stroke="#3f5933" stroke-opacity=".5" stroke-width="2.2" stroke-dasharray="1.5 0.8"/>
<path d="M979.12 298.07A42.98 42.98 0 0 1 978.95 300.27L966.22 298.26A30.12 30.12 0 0 0 966.23 298.07Z" fill="#a6d491" stroke="#a6d491" stroke-width="3.64" stroke-linejoin="round" opacity="1"/>
<path d="M967 298.22L978.27 299.11" stroke="#3f5933" stroke-opacity=".5" stroke-width="2.2" stroke-dasharray="1.5 0.8"/>
<path d="M978.24 304.76A42.98 42.98 0 0 1 977.72 306.9L965.47 302.92A30.12 30.12 0 0 0 965.51 302.74Z" fill="#a6d491" stroke="#a6d491" stroke-width="3.64" stroke-linejoin="round" opacity="1"/>
<path d="M966.25 303.01L977.23 305.65" stroke="#3f5933" stroke-opacity=".5" stroke-width="2.2" stroke-dasharray="1.5 0.8"/>
<path d="M976.32 311.22A42.98 42.98 0 0 1 975.47 313.26L963.99 307.41A30.12 30.12 0 0 0 964.06 307.24Z" fill="#a6d491" stroke="#a6d491" stroke-width="3.64" stroke-linejoin="round" opacity="1"/>
<path d="M964.75 307.62L975.19 311.95" stroke="#3f5933" stroke-opacity=".5" stroke-width="2.2" stroke-dasharray="1.5 0.8"/>
<path d="M955.53 310.03A24 24 0 0 1 927.35 318.11L932.94 308.8A13.4 13.4 0 0 0 945.85 305.1Z" fill="#f7c556" stroke="#f7c556" stroke-width="6.8" stroke-linejoin="round" opacity="1"/>
<path d="M973.57 317.26A43.09 43.09 0 0 1 972.47 319.07L961.81 311.44A30.01 30.01 0 0 0 961.89 311.31Z" fill="#f8d17b" stroke="#f8d17b" stroke-width="3.41" stroke-linejoin="round" opacity="1"/>
<path d="M962.61 311.84L972.27 317.71" stroke="#6f5826" stroke-opacity=".5" stroke-width="2.2" stroke-dasharray="1.5 0.8"/>
<path d="M969.96 322.58A43.09 43.09 0 0 1 968.61 324.2L959.2 315.08A30.01 30.01 0 0 0 959.3 314.95Z" fill="#f8d17b" stroke="#f8d17b" stroke-width="3.41" stroke-linejoin="round" opacity="1"/>
<path d="M959.93 315.59L968.61 322.82" stroke="#6f5826" stroke-opacity=".5" stroke-width="2.2" stroke-dasharray="1.5 0.8"/>
<path d="M965.61 327.3A43.09 43.09 0 0 1 964.03 328.7L956.08 318.28A30.01 30.01 0 0 0 956.2 318.17Z" fill="#f8d17b" stroke="#f8d17b" stroke-width="3.41" stroke-linejoin="round" opacity="1"/>
<path d="M956.73 318.89L964.24 327.34" stroke="#6f5826" stroke-opacity=".5" stroke-width="2.2" stroke-dasharray="1.5 0.8"/>
<path d="M960.6 331.32A43.09 43.09 0 0 1 958.84 332.47L952.52 320.98A30.01 30.01 0 0 0 952.65 320.9Z" fill="#f8d17b" stroke="#f8d17b" stroke-width="3.41" stroke-linejoin="round" opacity="1"/>
<path d="M953.07 321.69L959.24 331.16" stroke="#6f5826" stroke-opacity=".5" stroke-width="2.2" stroke-dasharray="1.5 0.8"/>
<path d="M955.06 334.55A43.09 43.09 0 0 1 953.14 335.43L948.59 323.13A30.01 30.01 0 0 0 948.74 323.06Z" fill="#f8d17b" stroke="#f8d17b" stroke-width="3.41" stroke-linejoin="round" opacity="1"/>
<path d="M949.04 323.91L953.73 334.19" stroke="#6f5826" stroke-opacity=".5" stroke-width="2.2" stroke-dasharray="1.5 0.8"/>
<path d="M949.09 336.92A43.09 43.09 0 0 1 947.06 337.5L944.4 324.67A30.01 30.01 0 0 0 944.55 324.62Z" fill="#f8d17b" stroke="#f8d17b" stroke-width="3.41" stroke-linejoin="round" opacity="1"/>
<path d="M944.72 325.5L947.83 336.37" stroke="#6f5826" stroke-opacity=".5" stroke-width="2.2" stroke-dasharray="1.5 0.8"/>
<path d="M942.84 338.38A43.09 43.09 0 0 1 940.74 338.65L940.02 325.56A30.01 30.01 0 0 0 940.17 325.54Z" fill="#f8d17b" stroke="#f8d17b" stroke-width="3.41" stroke-linejoin="round" opacity="1"/>
<path d="M940.21 326.44L941.68 337.64" stroke="#6f5826" stroke-opacity=".5" stroke-width="2.2" stroke-dasharray="1.5 0.8"/>
<path d="M936.43 338.89A43.09 43.09 0 0 1 934.32 338.85L935.55 325.8A30.01 30.01 0 0 0 935.71 325.8Z" fill="#f8d17b" stroke="#f8d17b" stroke-width="3.41" stroke-linejoin="round" opacity="1"/>
<path d="M935.61 326.69L935.4 337.99" stroke="#6f5826" stroke-opacity=".5" stroke-width="2.2" stroke-dasharray="1.5 0.8"/>
<path d="M930.03 338.45A43.09 43.09 0 0 1 927.95 338.1L931.1 325.37A30.01 30.01 0 0 0 931.25 325.4Z" fill="#f8d17b" stroke="#f8d17b" stroke-width="3.41" stroke-linejoin="round" opacity="1"/>
<path d="M931.03 326.26L929.14 337.4" stroke="#6f5826" stroke-opacity=".5" stroke-width="2.2" stroke-dasharray="1.5 0.8"/>
<path d="M923.76 337.06A43.09 43.09 0 0 1 921.75 336.4L926.76 324.28A30.01 30.01 0 0 0 926.91 324.33Z" fill="#f8d17b" stroke="#f8d17b" stroke-width="3.41" stroke-linejoin="round" opacity="1"/>
<path d="M926.56 325.16L923.03 335.89" stroke="#6f5826" stroke-opacity=".5" stroke-width="2.2" stroke-dasharray="1.5 0.8"/>
<path d="M917.77 334.75A43.09 43.09 0 0 1 915.88 333.8L922.63 322.57A30.01 30.01 0 0 0 922.77 322.64Z" fill="#f8d17b" stroke="#f8d17b" stroke-width="3.41" stroke-linejoin="round" opacity="1"/>
<path d="M922.3 323.4L917.22 333.49" stroke="#6f5826" stroke-opacity=".5" stroke-width="2.2" stroke-dasharray="1.5 0.8"/>
<path d="M920.66 314.09A24 24 0 0 1 912.67 300.52L923.52 300.15A13.4 13.4 0 0 0 926.25 304.78Z" fill="#e66561" stroke="#e66561" stroke-width="6.8" stroke-linejoin="round" opacity="1"/>
<path d="M912.22 331.72A43.19 43.19 0 0 1 910.56 330.56L918.96 320.24A29.91 29.91 0 0 0 919.07 320.32Z" fill="#eb8683" stroke="#eb8683" stroke-width="3.22" stroke-linejoin="round" opacity="1"/>
<path d="M918.44 321.09L911.95 330.34" stroke="#672d2b" stroke-opacity=".5" stroke-width="2.2" stroke-dasharray="1.5 0.8"/>
<path d="M907.37 327.96A43.19 43.19 0 0 1 905.9 326.58L915.67 317.55A29.91 29.91 0 0 0 915.77 317.64Z" fill="#eb8683" stroke="#eb8683" stroke-width="3.22" stroke-linejoin="round" opacity="1"/>
<path d="M915.04 318.32L907.3 326.56" stroke="#672d2b" stroke-opacity=".5" stroke-width="2.2" stroke-dasharray="1.5 0.8"/>
<path d="M903.1 323.55A43.19 43.19 0 0 1 901.84 321.98L912.8 314.42A29.91 29.91 0 0 0 912.88 314.53Z" fill="#eb8683" stroke="#eb8683" stroke-width="3.22" stroke-linejoin="round" opacity="1"/>
<path d="M912.07 315.1L903.24 322.15" stroke="#672d2b" stroke-opacity=".5" stroke-width="2.2" stroke-dasharray="1.5 0.8"/>
<path d="M899.51 318.59A43.19 43.19 0 0 1 898.48 316.84L910.4 310.92A29.91 29.91 0 0 0 910.46 311.04Z" fill="#eb8683" stroke="#eb8683" stroke-width="3.22" stroke-linejoin="round" opacity="1"/>
<path d="M909.58 311.48L899.84 317.22" stroke="#672d2b" stroke-opacity=".5" stroke-width="2.2" stroke-dasharray="1.5 0.8"/>
<path d="M896.65 313.16A43.19 43.19 0 0 1 895.88 311.29L908.52 307.12A29.91 29.91 0 0 0 908.57 307.24Z" fill="#eb8683" stroke="#eb8683" stroke-width="3.22" stroke-linejoin="round" opacity="1"/>
<path d="M907.62 307.55L897.17 311.85" stroke="#672d2b" stroke-opacity=".5" stroke-width="2.2" stroke-dasharray="1.5 0.8"/>
<path d="M894.59 307.38A43.19 43.19 0 0 1 894.09 305.42L907.19 303.08A29.91 29.91 0 0 0 907.22 303.21Z" fill="#eb8683" stroke="#eb8683" stroke-width="3.22" stroke-linejoin="round" opacity="1"/>
<path d="M906.25 303.39L895.29 306.16" stroke="#672d2b" stroke-opacity=".5" stroke-width="2.2" stroke-dasharray="1.5 0.8"/>
<path d="M893.37 301.37A43.19 43.19 0 0 1 893.16 299.36L906.45 298.9A29.91 29.91 0 0 0 906.47 299.03Z" fill="#eb8683" stroke="#eb8683" stroke-width="3.22" stroke-linejoin="round" opacity="1"/>
<path d="M905.47 299.07L894.24 300.26" stroke="#672d2b" stroke-opacity=".5" stroke-width="2.2" stroke-dasharray="1.5 0.8"/>
<path d="M911.36 293.7A24.93 24.93 0 0 1 912.65 287.62L924.02 293.16A12.47 12.47 0 0 0 923.99 293.26Z" fill="#71bbdc" stroke="#71bbdc" stroke-width="4.94" stroke-linejoin="round" opacity="1"/>
<path d="M893.31 294.94A42.9 42.9 0 0 1 893.42 292.66L906.04 294.29A30.2 30.2 0 0 0 906.03 294.5Z" fill="#90c9e3" stroke="#90c9e3" stroke-width="3.8" stroke-linejoin="round" opacity="1"/>
<path d="M905.33 294.36L894.05 293.84" stroke="#325462" stroke-opacity=".5" stroke-width="2.2" stroke-dasharray="1.5 0.8"/>
<path d="M894.02 288A42.9 42.9 0 0 1 894.49 285.77L906.68 289.42A30.2 30.2 0 0 0 906.64 289.62Z" fill="#90c9e3" stroke="#90c9e3" stroke-width="3.8" stroke-linejoin="round" opacity="1"/>
<path d="M905.98 289.38L894.92 287.03" stroke="#325462" stroke-opacity=".5" stroke-width="2.2" stroke-dasharray="1.5 0.8"/>
<path d="M895.84 281.26A42.9 42.9 0 0 1 896.67 279.14L908.11 284.71A30.2 30.2 0 0 0 908.03 284.91Z" fill="#90c9e3" stroke="#90c9e3" stroke-width="3.8" stroke-linejoin="round" opacity="1"/>
<path d="M907.42 284.56L896.89 280.45" stroke="#325462" stroke-opacity=".5" stroke-width="2.2" stroke-dasharray="1.5 0.8"/>
<path d="M913.49 282.8A26.17 26.17 0 0 1 915.64 279.61L926.89 289.52A11.23 11.23 0 0 0 926.89 289.52Z" fill="#3ba272" stroke="#3ba272" stroke-width="2.46" stroke-linejoin="round" opacity="1"/>
<path d="M898.28 275.05A43.23 43.23 0 0 1 899.27 273.33L910.36 280.81A29.87 29.87 0 0 0 910.3 280.92Z" fill="#66b691" stroke="#66b691" stroke-width="3.15" stroke-linejoin="round" opacity="1"/>
<path d="M909.44 280.35L899.65 274.7" stroke="#1a4833" stroke-opacity=".5" stroke-width="2.2" stroke-dasharray="1.5 0.8"/>
<path d="M901.53 269.98A43.23 43.23 0 0 1 902.76 268.41L912.7 277.36A29.87 29.87 0 0 0 912.62 277.46Z" fill="#66b691" stroke="#66b691" stroke-width="3.15" stroke-linejoin="round" opacity="1"/>
<path d="M911.85 276.78L902.95 269.82" stroke="#1a4833" stroke-opacity=".5" stroke-width="2.2" stroke-dasharray="1.5 0.8"/>
<path d="M918.41 277.03A25.86 25.86 0 0 1 921.92 274.24L929.02 286.77A11.54 11.54 0 0 0 929.01 286.77Z" fill="#fc8452" stroke="#fc8452" stroke-width="3.08" stroke-linejoin="round" opacity="1"/>
<path d="M906 265.39A42.86 42.86 0 0 1 907.69 263.8L915.56 273.7A30.24 30.24 0 0 0 915.4 273.85Z" fill="#fc9f78" stroke="#fc9f78" stroke-width="3.89" stroke-linejoin="round" opacity="1"/>
<path d="M915.03 273.29L907.29 265.06" stroke="#713b24" stroke-opacity=".5" stroke-width="2.2" stroke-dasharray="1.5 0.8"/>
<path d="M911.43 260.82A42.86 42.86 0 0 1 913.36 259.53L919.49 270.59A30.24 30.24 0 0 0 919.31 270.72Z" fill="#fc9f78" stroke="#fc9f78" stroke-width="3.89" stroke-linejoin="round" opacity="1"/>
<path d="M919.03 270.11L912.75 260.71" stroke="#713b24" stroke-opacity=".5" stroke-width="2.2" stroke-dasharray="1.5 0.8"/>
<path d="M925.92 272.41A25.55 25.55 0 0 1 930.77 270.84L932.54 284.53A11.85 11.85 0 0 0 932.54 284.53Z" fill="#9a60b4" stroke="#9a60b4" stroke-width="3.7" stroke-linejoin="round" opacity="1"/>
<path d="M919.3 257.79A41.6 41.6 0 0 1 927.53 255.11L928.76 265.19A31.5 31.5 0 0 0 924.22 266.67Z" fill="#b082c4" stroke="#b082c4" stroke-width="6.4" stroke-linejoin="round" opacity="1"/>
<path d="M933.68 268.8A27.11 27.11 0 0 1 935.41 268.7L935.57 285.53A10.29 10.29 0 0 0 935.57 285.53Z" fill="#ea7ccc" stroke="#ea7ccc" stroke-width="0.57" stroke-linejoin="round" opacity="1"/>
<path d="M932.67 252.47A43.47 43.47 0 0 1 934.42 252.36L934.42 266.23A29.63 29.63 0 0 0 934.36 266.23Z" fill="#ee98d7" stroke="#ee98d7" stroke-width="2.65" stroke-linejoin="round" opacity="1"/>
<path d="M934.31 264.96L933.62 253.68" stroke="#69375b" stroke-opacity=".5" stroke-width="2.2" stroke-dasharray="1.5 0.8"/>
<text transform="translate(952.83 285.61) rotate(-31.5)" font-size="6.2" text-anchor="middle" fill="#3f5f2c" y="2.23">生态</text>
<text transform="translate(941.57 314.54) rotate(74)" font-size="6.2" text-anchor="middle" fill="#6a5312" y="2.23">服务</text>
<text transform="translate(916.83 291.68) rotate(372)" font-size="5.2" text-anchor="middle" fill="#1f4a5c" y="1.87">咨询</text>
<text transform="translate(919.62 284.62) rotate(394)" font-size="4.4" text-anchor="middle" fill="#d8f0e3" y="1.58">投诉</text>
<text transform="translate(923.75 280.15) rotate(411.5)" font-size="4.4" text-anchor="middle" fill="#ffe9df" y="1.58">举报</text>
<text transform="translate(930.02 276.78) rotate(432)" font-size="4.8" text-anchor="middle" fill="#efe3f5" y="1.73">表扬</text>
<text transform="translate(924.92 261.09) rotate(432)" font-size="6" text-anchor="middle" fill="#3d2550" y="2.16">大厦</text>
<circle cx="143.4" cy="452.4" r="33.1" fill="none" stroke="#e6ebf8" stroke-width="10"/>
<path d="M143.4 415.95A36.45 36.45 0 0 1 171.49 475.63" fill="none" stroke="#464646" stroke-width="3.3" stroke-linecap="round"/>
<path d="M143.4 415.95A36.45 36.45 0 0 1 171.49 475.63" fill="none" stroke="#4f6ac2" stroke-width="2.4" stroke-linecap="round"/>
<path d="M143.4 419.25A33.15 33.15 0 0 1 174.93 462.64" fill="none" stroke="#464646" stroke-width="3.3" stroke-linecap="round"/>
<path d="M143.4 419.25A33.15 33.15 0 0 1 174.93 462.64" fill="none" stroke="#8dc873" stroke-width="2.4" stroke-linecap="round"/>
<path d="M143.4 422.55A29.85 29.85 0 0 1 171.79 443.18" fill="none" stroke="#464646" stroke-width="3.3" stroke-linecap="round"/>
<path d="M143.4 422.55A29.85 29.85 0 0 1 171.79 443.18" fill="none" stroke="#f7c556" stroke-width="2.4" stroke-linecap="round"/>
<text x="143.4" y="438.1" font-size="10.6" text-anchor="middle" fill="#4f6ac2" stroke="#4f6ac2" stroke-width=".3">36%</text>
<text x="143.4" y="442.7" font-size="5.8" text-anchor="middle" fill="#fff" font-weight="bold">咨询</text>
<text x="143.4" y="455.6" font-size="10.6" text-anchor="middle" fill="#8dc873" stroke="#8dc873" stroke-width=".3">30%</text>
<text x="143.4" y="460" font-size="5.8" text-anchor="middle" fill="#fff" font-weight="bold">投诉</text>
<text x="143.4" y="473.5" font-size="10.6" text-anchor="middle" fill="#f7c556" stroke="#f7c556" stroke-width=".3">20%</text>
<text x="143.4" y="478" font-size="5.8" text-anchor="middle" fill="#fff" font-weight="bold">求助</text>
<rect x="339.01" y="403.7" width="33.8" height="87.8" fill="rgba(180,180,180,0.2)"/>
<rect x="388.23" y="403.7" width="33.8" height="87.8" fill="rgba(180,180,180,0.2)"/>
<rect x="437.46" y="403.7" width="33.8" height="87.8" fill="rgba(180,180,180,0.2)"/>
<rect x="486.68" y="403.7" width="33.8" height="87.8" fill="rgba(180,180,180,0.2)"/>
<rect x="535.9" y="403.7" width="33.8" height="87.8" fill="rgba(180,180,180,0.2)"/>
<rect x="585.12" y="403.7" width="33.8" height="87.8" fill="rgba(180,180,180,0.2)"/>
<rect x="634.34" y="403.7" width="33.8" height="87.8" fill="rgba(180,180,180,0.2)"/>
<rect x="683.57" y="403.7" width="33.8" height="87.8" fill="rgba(180,180,180,0.2)"/>
<rect x="732.79" y="403.7" width="33.8" height="87.8" fill="rgba(180,180,180,0.2)"/>
<rect x="331.3" y="491.13" width="443" height="0.75" fill="#7d808a"/>
<text x="327.1" y="493.77" font-size="6.4" text-anchor="end" fill="#e2e3e7" font-weight="normal">0</text>
<rect x="331.3" y="473.57" width="443" height="0.75" fill="#a3a6af"/>
<text x="327.1" y="476.21" font-size="6.4" text-anchor="end" fill="#e2e3e7" font-weight="normal">20,000</text>
<rect x="331.3" y="456.01" width="443" height="0.75" fill="#a3a6af"/>
<text x="327.1" y="458.65" font-size="6.4" text-anchor="end" fill="#e2e3e7" font-weight="normal">40,000</text>
<rect x="331.3" y="438.45" width="443" height="0.75" fill="#a3a6af"/>
<text x="327.1" y="441.09" font-size="6.4" text-anchor="end" fill="#e2e3e7" font-weight="normal">60,000</text>
<rect x="331.3" y="420.89" width="443" height="0.75" fill="#a3a6af"/>
<text x="327.1" y="423.53" font-size="6.4" text-anchor="end" fill="#e2e3e7" font-weight="normal">80,000</text>
<rect x="331.3" y="403.33" width="443" height="0.75" fill="#a3a6af"/>
<text x="327.1" y="405.97" font-size="6.4" text-anchor="end" fill="#e2e3e7" font-weight="normal">100,000</text>
<rect x="339.01" y="404.4" width="33.8" height="87.1" fill="#4e69c2"/>
<text x="355.91" y="499.95" font-size="6.1" text-anchor="middle" fill="#f0f1f3" font-weight="bold">办结</text>
<rect x="388.23" y="490.18" width="33.8" height="1.32" fill="#4e69c2"/>
<text x="405.13" y="499.95" font-size="6.1" text-anchor="middle" fill="#f0f1f3" font-weight="bold">部门处办中</text>
<rect x="437.46" y="491.19" width="33.8" height="0.31" fill="#4e69c2"/>
<text x="454.36" y="499.95" font-size="6.1" text-anchor="middle" fill="#f0f1f3" font-weight="bold">暂存</text>
<rect x="486.68" y="491.28" width="33.8" height="0.22" fill="#4e69c2"/>
<text x="503.58" y="499.95" font-size="6.1" text-anchor="middle" fill="#f0f1f3" font-weight="bold">初审处理</text>
<rect x="535.9" y="491.37" width="33.8" height="0.13" fill="#4e69c2"/>
<text x="552.8" y="499.95" font-size="6.1" text-anchor="middle" fill="#f0f1f3" font-weight="bold">终审处理</text>
<rect x="585.12" y="491.39" width="33.8" height="0.11" fill="#4e69c2"/>
<text x="602.02" y="499.95" font-size="6.1" text-anchor="middle" fill="#f0f1f3" font-weight="bold">待回访</text>
<rect x="634.34" y="491.41" width="33.8" height="0.09" fill="#4e69c2"/>
<text x="651.24" y="499.95" font-size="6.1" text-anchor="middle" fill="#f0f1f3" font-weight="bold">全媒体待处理</text>
<rect x="683.57" y="491.43" width="33.8" height="0.07" fill="#4e69c2"/>
<text x="700.47" y="499.95" font-size="6.1" text-anchor="middle" fill="#f0f1f3" font-weight="bold">初审退回</text>
<rect x="732.79" y="491.45" width="33.8" height="0.05" fill="#4e69c2"/>
<text x="749.69" y="499.95" font-size="6.1" text-anchor="middle" fill="#f0f1f3" font-weight="bold">废单</text>
<rect x="331" y="491.5" width="0.6" height="2.4" fill="#a3a6af" opacity=".6"/>
<rect x="380.22" y="491.5" width="0.6" height="2.4" fill="#a3a6af" opacity=".6"/>
<rect x="429.44" y="491.5" width="0.6" height="2.4" fill="#a3a6af" opacity=".6"/>
<rect x="478.67" y="491.5" width="0.6" height="2.4" fill="#a3a6af" opacity=".6"/>
<rect x="527.89" y="491.5" width="0.6" height="2.4" fill="#a3a6af" opacity=".6"/>
<rect x="577.11" y="491.5" width="0.6" height="2.4" fill="#a3a6af" opacity=".6"/>
<rect x="626.33" y="491.5" width="0.6" height="2.4" fill="#a3a6af" opacity=".6"/>
<rect x="675.56" y="491.5" width="0.6" height="2.4" fill="#a3a6af" opacity=".6"/>
<rect x="724.78" y="491.5" width="0.6" height="2.4" fill="#a3a6af" opacity=".6"/>
<rect x="774" y="491.5" width="0.6" height="2.4" fill="#a3a6af" opacity=".6"/>
<rect x="841.3" y="491.13" width="210.7" height="0.75" fill="#a3a6af"/>
<text x="837.1" y="493.77" font-size="6.4" text-anchor="end" fill="#e2e3e7" font-weight="normal">0</text>
<rect x="841.3" y="471.33" width="210.7" height="0.75" fill="#a3a6af"/>
<text x="837.1" y="473.97" font-size="6.4" text-anchor="end" fill="#e2e3e7" font-weight="normal">1,000</text>
<rect x="841.3" y="451.53" width="210.7" height="0.75" fill="#a3a6af"/>
<text x="837.1" y="454.17" font-size="6.4" text-anchor="end" fill="#e2e3e7" font-weight="normal">2,000</text>
<rect x="841.3" y="431.73" width="210.7" height="0.75" fill="#a3a6af"/>
<text x="837.1" y="434.37" font-size="6.4" text-anchor="end" fill="#e2e3e7" font-weight="normal">3,000</text>
<rect x="841.3" y="411.93" width="210.7" height="0.75" fill="#d8dae0"/>
<text x="837.1" y="414.57" font-size="6.4" text-anchor="end" fill="#e2e3e7" font-weight="normal">4,000</text>
<rect x="843.58" y="462" width="6" height="29.5" fill="#4e69c2"/>
<rect x="850.58" y="461.6" width="6" height="29.9" fill="#8dc873"/>
<rect x="861.14" y="415.27" width="6" height="76.23" fill="#4e69c2"/>
<rect x="868.14" y="412.3" width="6" height="79.2" fill="#8dc873"/>
<rect x="878.7" y="475.26" width="6" height="16.24" fill="#4e69c2"/>
<rect x="885.7" y="474.67" width="6" height="16.83" fill="#8dc873"/>
<rect x="913.81" y="457.44" width="6" height="34.06" fill="#4e69c2"/>
<rect x="920.81" y="456.65" width="6" height="34.85" fill="#8dc873"/>
<rect x="931.37" y="436.46" width="6" height="55.04" fill="#4e69c2"/>
<rect x="938.37" y="435.27" width="6" height="56.23" fill="#8dc873"/>
<rect x="948.93" y="433.88" width="6" height="57.62" fill="#4e69c2"/>
<rect x="955.93" y="432.1" width="6" height="59.4" fill="#8dc873"/>
<rect x="966.49" y="428.93" width="6" height="62.57" fill="#4e69c2"/>
<rect x="973.49" y="427.94" width="6" height="63.56" fill="#8dc873"/>
<rect x="984.05" y="420.62" width="6" height="70.88" fill="#4e69c2"/>
<rect x="991.05" y="420.22" width="6" height="71.28" fill="#8dc873"/>
<rect x="1001.6" y="424.97" width="6" height="66.53" fill="#4e69c2"/>
<rect x="1008.6" y="423.59" width="6" height="67.91" fill="#8dc873"/>
<rect x="1019.16" y="438.04" width="6" height="53.46" fill="#4e69c2"/>
<rect x="1026.16" y="436.26" width="6" height="55.24" fill="#8dc873"/>
<rect x="1036.72" y="426.16" width="6" height="65.34" fill="#4e69c2"/>
<rect x="1043.72" y="423.98" width="6" height="67.52" fill="#8dc873"/>
<rect x="841" y="491.5" width="0.6" height="2.4" fill="#a3a6af" opacity=".6"/>
<rect x="858.56" y="491.5" width="0.6" height="2.4" fill="#a3a6af" opacity=".6"/>
<rect x="876.12" y="491.5" width="0.6" height="2.4" fill="#a3a6af" opacity=".6"/>
<rect x="893.67" y="491.5" width="0.6" height="2.4" fill="#a3a6af" opacity=".6"/>
<rect x="911.23" y="491.5" width="0.6" height="2.4" fill="#a3a6af" opacity=".6"/>
<rect x="928.79" y="491.5" width="0.6" height="2.4" fill="#a3a6af" opacity=".6"/>
<rect x="946.35" y="491.5" width="0.6" height="2.4" fill="#a3a6af" opacity=".6"/>
<rect x="963.91" y="491.5" width="0.6" height="2.4" fill="#a3a6af" opacity=".6"/>
<rect x="981.47" y="491.5" width="0.6" height="2.4" fill="#a3a6af" opacity=".6"/>
<rect x="999.03" y="491.5" width="0.6" height="2.4" fill="#a3a6af" opacity=".6"/>
<rect x="1016.58" y="491.5" width="0.6" height="2.4" fill="#a3a6af" opacity=".6"/>
<rect x="1034.14" y="491.5" width="0.6" height="2.4" fill="#a3a6af" opacity=".6"/>
<rect x="1051.7" y="491.5" width="0.6" height="2.4" fill="#a3a6af" opacity=".6"/>
<text x="850.08" y="500.27" font-size="6.4" text-anchor="middle" fill="#e2e3e7">1/2021</text>
<text x="885.2" y="500.27" font-size="6.4" text-anchor="middle" fill="#e2e3e7">11/2021</text>
<text x="920.31" y="500.27" font-size="6.4" text-anchor="middle" fill="#e2e3e7">2/2021</text>
<text x="955.43" y="500.27" font-size="6.4" text-anchor="middle" fill="#e2e3e7">4/2021</text>
<text x="990.55" y="500.27" font-size="6.4" text-anchor="middle" fill="#e2e3e7">6/2021</text>
<text x="1025.66" y="500.27" font-size="6.4" text-anchor="middle" fill="#e2e3e7">8/2021</text>
<rect x="888.3" y="404.7" width="12" height="6.6" rx="1.5" fill="#4e69c2"/><text x="903.6" y="410.3" font-size="6.1" fill="#f0f1f3" font-weight="bold">结果满意度</text>
<rect x="939.3" y="404.7" width="12" height="6.6" rx="1.5" fill="#8dc873"/><text x="954.6" y="410.3" font-size="6.1" fill="#f0f1f3" font-weight="bold">态度满意度</text>
</svg>
<div class="bottom"></div>
</div></body></html>
